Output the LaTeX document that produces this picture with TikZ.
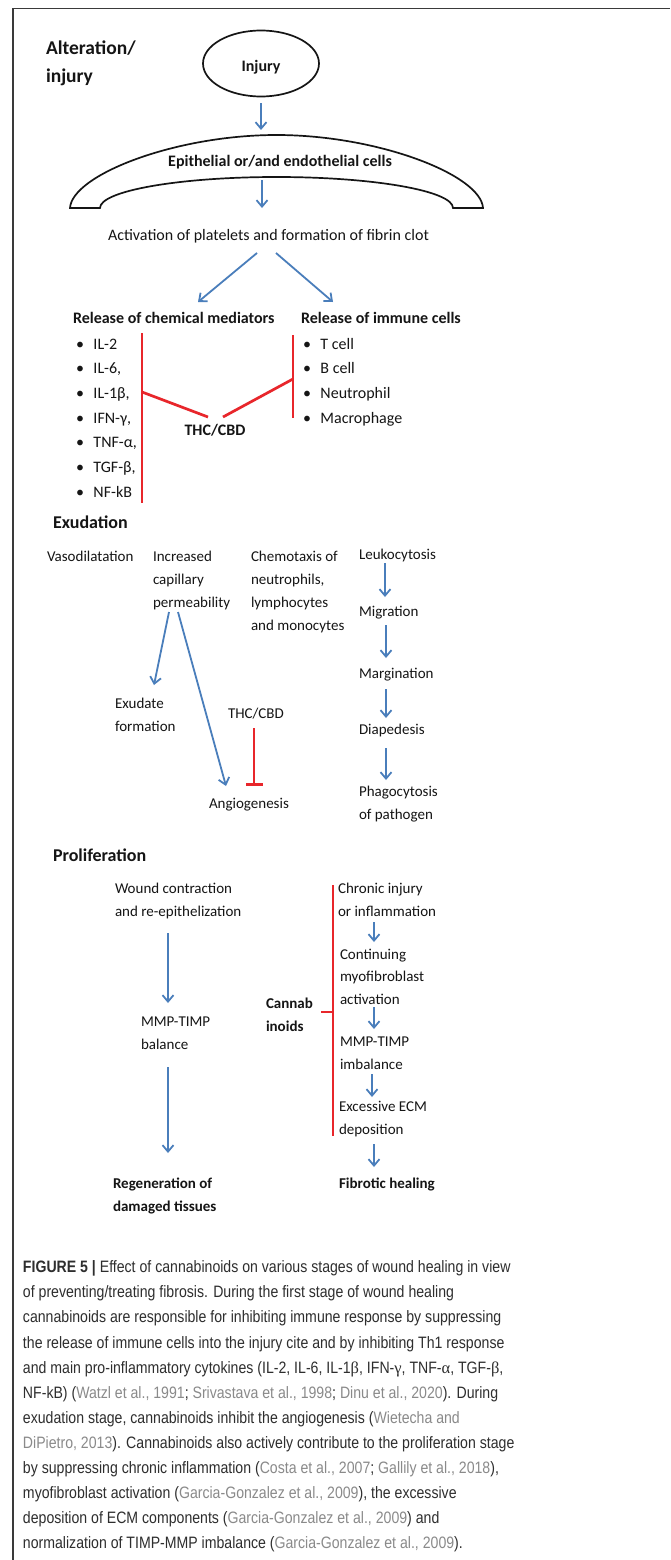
\documentclass[tikz,border=0pt]{standalone}
\usepackage{fontspec}
\setmainfont{Carlito}
\newfontfamily\capfont[FakeStretch=0.855]{Liberation Sans}
\newfontfamily\capgr{Liberation Serif}
\usetikzlibrary{arrows.meta,shapes.geometric}
\definecolor{ablue}{HTML}{4A7EBB}
\definecolor{ired}{HTML}{E8262B}
\definecolor{txt}{HTML}{151515}
\definecolor{captxt}{HTML}{2E2E2E}
\definecolor{citec}{HTML}{8A8A8A}
\definecolor{framec}{HTML}{3A3A3A}
\newcommand\myr[1]{\rule{0pt}{#1pt}}
\newcommand\cit[1]{{\color{citec}#1}}
\newcommand\gr[1]{{\capgr #1}}
\newcommand\bl{\makebox[17.5pt][l]{•}}
\begin{document}
\begin{tikzpicture}[x=1pt,y=-1pt,
 tx/.style={inner sep=0pt, outer sep=0pt, text=txt, align=left},
 f15/.style={tx, font=\fontsize{15}{22.8}\selectfont},
 f15b/.style={tx, font=\fontsize{15}{22.7}\selectfont\bfseries},
 f16/.style={tx, font=\fontsize{16}{24.7}\selectfont},
 f16b/.style={tx, font=\fontsize{16}{24.7}\selectfont\bfseries},
 hd/.style={tx, font=\fontsize{18}{28}\selectfont\bfseries},
 barrow/.style={draw=ablue, line width=1.8pt, -{Straight Barb[length=6.5pt,width=11pt]}},
 inhib/.style={draw=ired, line width=2.7pt},
]
\useasboundingbox (0,0) rectangle (670,1560);
\fill[white] (0,0) rectangle (670,1560);
\draw[framec, line width=1.2pt] (13,1560) -- (13,8.5) -- (670,8.5);

% ---------- Alteration / injury ----------
\node[tx, font=\fontsize{19.5}{28}\selectfont\bfseries, anchor=north west] (alt) at (46,39) {\myr{16}Alteration/\\injury};
\node[draw=txt, line width=1.7pt, ellipse, minimum width=116pt, minimum height=66pt, inner sep=0pt,
      font=\fontsize{16}{20}\selectfont\bfseries, text=txt] (inj) at (261,63.5) {\raisebox{-8pt}[0pt][0pt]{Injury}};

\draw[txt, line width=1.7pt] (70,208) .. controls (72,175) and (175,135) .. (276.5,135)
   .. controls (378,135) and (481,175) .. (483,208) -- (453,208)
   .. controls (453,190.9) and (374,177) .. (276.5,177)
   .. controls (179,177) and (100,190.9) .. (100,208) -- cycle;
\node[f16b, anchor=base] (epi) at (280,166.7) {Epithelial or/and endothelial cells};
\node[f16, anchor=base] (act) at (268.5,240.5) {Activation of platelets and formation of fibrin clot};

\coordinate (archtop) at (261,130);
\coordinate (archbot) at (262,180);
\coordinate (actin) at (262,208);
\draw[barrow] ([yshift=-6pt]inj.south) -- (archtop);
\draw[barrow] (archbot) -- (actin);

\node[f16b, anchor=base west] (chem) at (73,323) {Release of chemical mediators};
\node[f16b, anchor=base west] (imm) at (301,323) {Release of immune cells};
\coordinate (actL) at (257,253);
\coordinate (actR) at (276,253);
\coordinate (chemin) at (198,302);
\coordinate (immin) at (333,302);
\draw[barrow] (actL) -- (chemin);
\draw[barrow] (actR) -- (immin);

\node[f16, anchor=north west] (medl) at (76,335.5) {\myr{13.5}\bl IL-2\\\bl IL-6,\\\bl IL-1β,\\\bl IFN-γ,\\\bl TNF-α,\\\bl TGF-β,\\\bl NF-kB};
\node[f16, anchor=north west] (imml) at (303,335.5) {\myr{13.5}\bl T cell\\\bl B cell\\\bl Neutrophil\\\bl Macrophage};
\node[f16b, anchor=base] (thc) at (215,435) {THC/CBD};

\coordinate (lbt) at (142,333);
\coordinate (lbb) at (142,503);
\coordinate (lbm) at (142,392);
\coordinate (thcL) at (208,417);
\coordinate (thcR) at (223,417);
\coordinate (rbm) at (293,379);
\coordinate (rbt) at (293,335);
\coordinate (rbb) at (293,418);
\draw[inhib] (lbt) -- (lbb);
\draw[inhib] (lbm) -- (thcL);
\draw[inhib] (thcR) -- (rbm);
\draw[inhib] (rbt) -- (rbb);

% ---------- Exudation ----------
\node[hd, anchor=base west] (exu) at (53,528) {Exudation};
\node[f15, anchor=base west] (vaso) at (47,561.7) {Vasodilatation};
\node[f15, anchor=north west] (incr) at (153,549.2) {\myr{12.5}Increased\\capillary\\permeability};
\node[f15, anchor=north west] (chemo) at (251,549.2) {\myr{12.5}Chemotaxis of\\neutrophils,\\lymphocytes\\and monocytes};
\node[f15, anchor=base west] (leuk) at (359,559) {Leukocytosis};
\node[f15, anchor=base west] (migr) at (359,616) {Migration};
\node[f15, anchor=base west] (marg) at (359,678) {Margination};
\node[f15, anchor=base west] (diap) at (359,734) {Diapedesis};
\node[f15, anchor=north west] (phag) at (359,784.2) {\myr{12.5}Phagocytosis\\of pathogen};
\node[f15, anchor=north west] (exud) at (115,695.8) {\myr{12.5}Exudate\\formation};
\node[f15, anchor=base west] (thc2) at (228,718.3) {THC/CBD};
\node[f15, anchor=base west] (angio) at (209,808) {Angiogenesis};

\coordinate (perm1) at (169,612);
\coordinate (perm2) at (178,612);
\coordinate (exudin) at (154,685);
\coordinate (angin) at (226,786);
\draw[barrow] (perm1) -- (exudin);
\draw[barrow] (perm2) -- (angin);

\coordinate (l1) at (385,563);  \coordinate (l2) at (385,597);
\coordinate (m1) at (386,625);  \coordinate (m2) at (386,658);
\coordinate (g1) at (386,689);  \coordinate (g2) at (386,718);
\coordinate (d1) at (386,748);  \coordinate (d2) at (386,780);
\draw[barrow] (l1) -- (l2);
\draw[barrow] (m1) -- (m2);
\draw[barrow] (g1) -- (g2);
\draw[barrow] (d1) -- (d2);

\coordinate (thcb) at (254,728);
\coordinate (angt) at (254,786);
\draw[inhib, -{Bar[width=17pt]}] (thcb) -- (angt);

% ---------- Proliferation ----------
\node[hd, anchor=base west] (prol) at (53,861.7) {Proliferation};
\node[f15, anchor=north west] (wound) at (115,880.8) {\myr{12.5}Wound contraction\\and re-epithelization};
\node[f15, anchor=north west] (mmpb) at (141,1014.2) {\myr{12.5}MMP-TIMP\\balance};
\node[f15b, anchor=north west] (regen) at (113,1175.8) {\myr{12.5}Regeneration of\\damaged tissues};
\node[f15b, anchor=north west] (cann) at (266,995.8) {\myr{12.5}Cannab\\inoids};
\node[f15, anchor=north west] (chron) at (338,880.8) {\myr{12.5}Chronic injury\\or inflammation};
\node[f15, anchor=north west] (cont) at (340,946.5) {\myr{12.5}Continuing\\myofibroblast\\activation};
\node[f15, anchor=north west] (mmpi) at (340,1034.2) {\myr{12.5}MMP-TIMP\\imbalance};
\node[f15, anchor=north west] (ecm) at (339,1099.2) {\myr{12.5}Excessive ECM\\deposition};
\node[f15b, anchor=base west] (fib) at (339,1188.3) {Fibrotic healing};

\coordinate (w1) at (168,933);  \coordinate (w2) at (168,1003);
\coordinate (b1) at (168,1067); \coordinate (b2) at (168,1153);
\draw[barrow] (w1) -- (w2);
\draw[barrow] (b1) -- (b2);

\coordinate (c1) at (374,922);  \coordinate (c2) at (374,942);
\coordinate (c3) at (374,1007); \coordinate (c4) at (374,1029);
\coordinate (c5) at (372,1074); \coordinate (c6) at (372,1097);
\coordinate (c7) at (374,1144); \coordinate (c8) at (374,1167);
\draw[barrow] (c1) -- (c2);
\draw[barrow] (c3) -- (c4);
\draw[barrow] (c5) -- (c6);
\draw[barrow] (c7) -- (c8);

\coordinate (pbt) at (333,885);
\coordinate (pbb) at (333,1136);
\coordinate (pbm) at (333,1012);
\coordinate (cannR) at (321,1012);
\draw[draw=ired, line width=2.5pt] (pbt) -- (pbb);
\draw[draw=ired, line width=2.5pt] (cannR) -- (pbm);

% ---------- Caption ----------
\node[inner sep=0pt, outer sep=0pt, align=left, text=captxt, anchor=north west,
      font=\capfont\fontsize{16.5}{25.1}\selectfont] (cap) at (23,1259.7) {\myr{13}\textbf{FIGURE 5 |} Effect of cannabinoids on various stages of wound healing in view\\
of preventing/treating fibrosis. During the first stage of wound healing\\
cannabinoids are responsible for inhibiting immune response by suppressing\\
the release of immune cells into the injury cite and by inhibiting Th1 response\\
and main pro-inflammatory cytokines (IL-2, IL-6, IL-1\gr{β}, IFN-\gr{γ}, TNF-\gr{α}, TGF-\gr{β},\\
NF-kB) (\cit{Watzl et al., 1991}; \cit{Srivastava et al., 1998}; \cit{Dinu et al., 2020}). During\\
exudation stage, cannabinoids inhibit the angiogenesis (\cit{Wietecha and}\\
\cit{DiPietro, 2013}). Cannabinoids also actively contribute to the proliferation stage\\
by suppressing chronic inflammation (\cit{Costa et al., 2007}; \cit{Gallily et al., 2018}),\\
myofibroblast activation (\cit{Garcia-Gonzalez et al., 2009}), the excessive\\
deposition of ECM components (\cit{Garcia-Gonzalez et al., 2009}) and\\
normalization of TIMP-MMP imbalance (\cit{Garcia-Gonzalez et al., 2009}).};
\end{tikzpicture}
\end{document}
